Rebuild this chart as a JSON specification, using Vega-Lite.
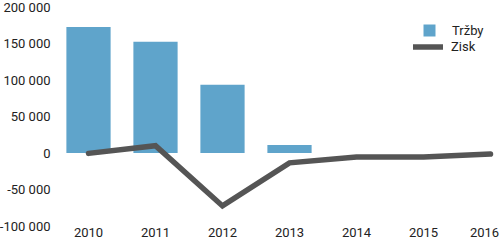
{
  "$schema": "https://vega.github.io/schema/vega-lite/v6.json",
  "autosize": "none",
  "padding": {"left": 55, "top": 7, "right": 0, "bottom": 16},
  "width": 469,
  "height": 219,
  "config": {
    "view": {"stroke": null},
    "font": "Roboto",
    "locale": {"number": {"decimal": ",", "thousands": " ", "grouping": [3], "currency": ["", ""], "minus": "-"}},
    "axis": {"grid": false, "domain": false, "ticks": false, "labelFont": "Roboto", "labelFontSize": 13, "labelColor": "#222222", "title": null, "labelOverlap": false}
  },
  "data": {"values": [
    {"year": "2010", "trzby": 172500, "zisk": -500},
    {"year": "2011", "trzby": 152500, "zisk": 10000},
    {"year": "2012", "trzby": 93500, "zisk": -72500},
    {"year": "2013", "trzby": 11000, "zisk": -13500},
    {"year": "2014", "trzby": null, "zisk": -5500},
    {"year": "2015", "trzby": null, "zisk": -5500},
    {"year": "2016", "trzby": null, "zisk": -1500}
  ]},
  "encoding": {
    "x": {"field": "year", "type": "ordinal", "scale": {"paddingInner": 0.34, "paddingOuter": 0.17}, "axis": {"labelAngle": 0, "labelPadding": 0, "labelOffset": {"expr": "datum.value == '2016' ? -6 : 0"}}}
  },
  "layer": [
    {
      "mark": {"type": "bar", "fill": "#5fa4cb"},
      "encoding": {
        "y": {"field": "trzby", "type": "quantitative", "scale": {"domain": [-100000, 200000], "nice": false}, "axis": {"values": [-100000, -50000, 0, 50000, 100000, 150000, 200000], "format": ",d", "labelPadding": 5, "labelOverlap": false, "labelBound": false}},
        "fill": {"datum": "Tržby", "scale": {"range": ["#5fa4cb"]}, "legend": {"orient": "none", "legendX": 368, "legendY": 17, "title": null, "symbolType": "square", "symbolSize": 144, "symbolStrokeWidth": 0, "labelOffset": 16, "labelFontSize": 13, "labelFont": "Roboto", "labelColor": "#222222", "padding": 0}}
      }
    },
    {
      "mark": {"type": "line", "stroke": "#555555", "strokeWidth": 5.5, "strokeCap": "round", "strokeJoin": "miter"},
      "encoding": {
        "y": {"field": "zisk", "type": "quantitative", "axis": {"values": [-100000, -50000, 0, 50000, 100000, 150000, 200000], "format": ",d", "labelPadding": 5, "labelOverlap": false, "labelBound": false}},
        "stroke": {"datum": "Zisk", "scale": {"range": ["#555555"]}, "legend": {"orient": "none", "legendX": 355, "legendY": 22, "title": null, "symbolType": "stroke", "symbolSize": 900, "symbolStrokeWidth": 5.5, "labelOffset": 5, "labelFontSize": 13, "labelFont": "Roboto", "labelColor": "#222222", "padding": 0}}
      }
    }
  ]
}
